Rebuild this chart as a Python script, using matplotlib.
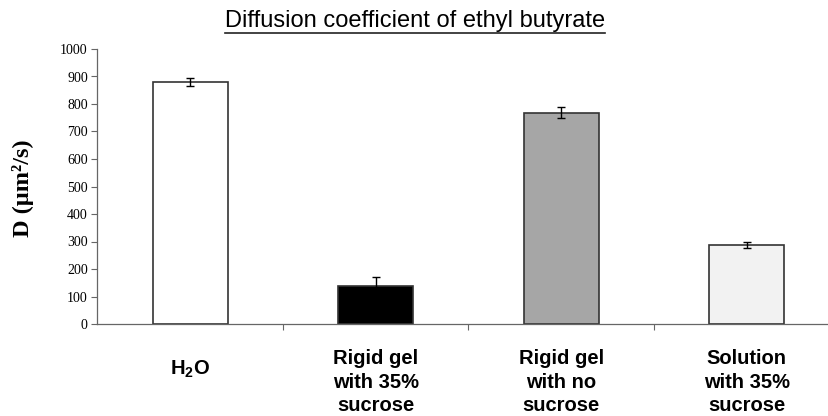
import matplotlib
matplotlib.use("Agg")
import matplotlib.pyplot as plt
from matplotlib.lines import Line2D
import numpy as np

categories = ["H$_\\mathbf{2}$O", "Rigid gel\nwith 35%\nsucrose", "Rigid gel\nwith no\nsucrose", "Solution\nwith 35%\nsucrose"]
values = [880, 138, 768, 287]
errors = [14, 33, 20, 12]
colors = ["#ffffff", "#000000", "#a6a6a6", "#f2f2f2"]
yticks = [0, 100, 200, 300, 400, 500, 600, 700, 800, 900, 1000]

plt.rcParams['mathtext.fontset'] = 'custom'
plt.rcParams['mathtext.rm'] = 'Liberation Sans'
plt.rcParams['mathtext.bf'] = 'Liberation Sans:bold'

W, H = 829, 416
fig = plt.figure(figsize=(W/100, H/100), dpi=100)
left, right, bottom, top = 97.5, 839.5, 324, 49
ax = fig.add_axes([left/W, (H-bottom)/H, (right-left)/W, (bottom-top)/H])

x = np.arange(len(values))
ax.bar(x, values, width=0.404, color=colors, edgecolor="#333333", linewidth=1.2, zorder=2)
ax.errorbar(x, values, yerr=errors, fmt='none', ecolor='#000000', elinewidth=1.0,
            capsize=3, capthick=1.0, zorder=3)

ax.set_xlim(-0.5, len(values) - 0.5)
ax.set_ylim(0, 1000)
ax.set_yticks(yticks)
ax.set_yticklabels([str(v) for v in yticks], fontfamily='Liberation Serif', fontsize=10)
ax.tick_params(axis='y', direction='out', length=4, width=0.8, color='#666666', pad=3)

ax.set_xticks(np.arange(len(values) - 1) + 0.5)
ax.set_xticklabels([])
ax.tick_params(axis='x', direction='out', length=4, width=0.8, color='#666666')

for s in ['top', 'right']:
    ax.spines[s].set_visible(False)
for s in ['left', 'bottom']:
    ax.spines[s].set_color('#666666')
    ax.spines[s].set_linewidth(0.9)

trans = ax.get_xaxis_transform()
for i, lab in enumerate(categories):
    yc = 369 if i == 0 else 382
    ax.text(i, -(yc - bottom) / (bottom - top), lab, transform=trans, ha='center', va='center',
            multialignment='center', fontfamily='Liberation Sans', fontweight='bold',
            fontsize=14.5, linespacing=1.32)

fig.text(23/W, 1 - 188/H, "D (µm²/s)", rotation=90, ha='center', va='center',
         fontfamily='Liberation Serif', fontweight='bold', fontsize=17.5)

t = fig.text(415/W, 1 - 21/H, "Diffusion coefficient of ethyl butyrate", ha='center', va='center',
             fontfamily='Liberation Sans', fontsize=17)
fig.canvas.draw()
bb = t.get_window_extent(fig.canvas.get_renderer())
ul_y = (bb.y0 - 0.5) / H
fig.add_artist(Line2D([bb.x0 / W, bb.x1 / W], [ul_y, ul_y], color='#222222', linewidth=1.2,
                      transform=fig.transFigure))

fig.savefig("out.png", dpi=100)
